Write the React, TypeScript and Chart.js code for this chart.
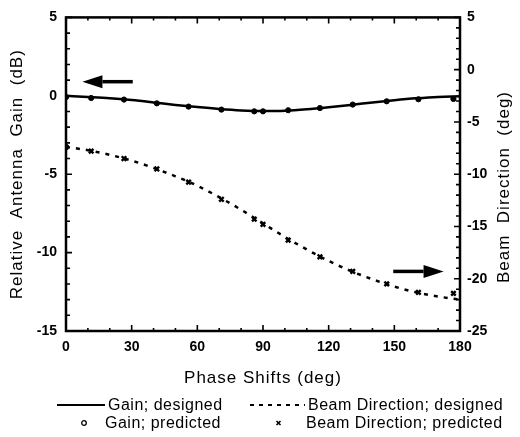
import React, { useEffect, useRef } from 'react';
import { Chart, registerables } from 'chart.js';

Chart.register(...registerables);

// ---- Data ----
const phaseDesigned = [0, 10, 20, 30, 40, 50, 60, 70, 80, 90, 100, 110, 120, 130, 140, 150, 160, 170, 180];
const gainDesigned = [0, -0.07, -0.15, -0.27, -0.42, -0.58, -0.72, -0.84, -0.93, -0.97, -0.95, -0.86, -0.73, -0.58, -0.42, -0.28, -0.16, -0.07, -0.03];
const beamDesigned = [-7.4, -7.7, -8.15, -8.7, -9.4, -10.2, -11.1, -12.2, -13.4, -14.7, -16.0, -17.2, -18.3, -19.25, -20.05, -20.75, -21.3, -21.7, -22.0];

const phasePredicted = [0, 11.5, 26.5, 41.5, 56, 71, 86, 90, 101.5, 116, 131, 146.5, 161, 177];
const gainPredicted = [-0.08, -0.14, -0.24, -0.48, -0.69, -0.88, -0.99, -0.99, -0.92, -0.78, -0.56, -0.35, -0.22, -0.2];
const beamPredicted = [-7.4, -7.8, -8.5, -9.5, -10.75, -12.4, -14.3, -14.8, -16.3, -17.9, -19.3, -20.5, -21.3, -21.4];

const xTickValues = [0, 30, 60, 90, 120, 150, 180];
const gainTickValues = [5, 0, -5, -10, -15];
const beamTickValues = [5, 0, -5, -10, -15, -20, -25];

const xTitle = 'Phase Shifts (deg)';
const yTitle = 'Relative  Antenna  Gain  (dB)';
const y2Title = 'Beam  Direction  (deg)';

// arrows anchored in data coordinates: [fromX, toX, y]
const gainArrow = [30.5, 7.5, 0.9];
const beamArrow = [149.5, 172.5, -19.3];

const FONT = "'Liberation Sans', Arial, Helvetica, sans-serif";

const framePlugin = {
  id: 'frameAndNotes',
  afterDraw(chart: any) {
    const { ctx, chartArea, scales } = chart;
    const { left, right, top, bottom } = chartArea;
    const x = scales.x, y = scales.y, y2 = scales.y2;
    ctx.save();
    ctx.strokeStyle = '#000';
    ctx.fillStyle = '#000';
    ctx.lineWidth = 2.5;
    ctx.strokeRect(left, top, right - left, bottom - top);

    ctx.lineWidth = 1.6;
    ctx.beginPath();
    for (let v = 0; v <= 180; v += 10) {
      const px = x.getPixelForValue(v);
      const len = v % 30 === 0 ? 6 : 3;
      ctx.moveTo(px, bottom); ctx.lineTo(px, bottom - len);
      ctx.moveTo(px, top); ctx.lineTo(px, top + len);
    }
    for (let v = -15; v <= 5; v += 1) {
      const py = y.getPixelForValue(v);
      const len = v % 5 === 0 ? 6 : 4;
      ctx.moveTo(left, py); ctx.lineTo(left + len, py);
    }
    for (let v = -25; v <= 5; v += 1) {
      const py = y2.getPixelForValue(v);
      const len = v % 5 === 0 ? 6 : 4;
      ctx.moveTo(right, py); ctx.lineTo(right - len, py);
    }
    ctx.stroke();

    const drawArrow = (a: number[], scale: any) => {
      const x0 = x.getPixelForValue(a[0]);
      const x1 = x.getPixelForValue(a[1]);
      const py = scale.getPixelForValue(a[2]);
      const dir = Math.sign(x1 - x0);
      const head = 20;
      ctx.lineWidth = 3.5;
      ctx.beginPath();
      ctx.moveTo(x0, py);
      ctx.lineTo(x1 - dir * head, py);
      ctx.stroke();
      ctx.beginPath();
      ctx.moveTo(x1, py);
      ctx.lineTo(x1 - dir * head, py - 6.5);
      ctx.lineTo(x1 - dir * head, py + 6.5);
      ctx.closePath();
      ctx.fill();
    };
    drawArrow(gainArrow, y);
    drawArrow(beamArrow, y2);

    ctx.font = `17px ${FONT}`;
    (ctx as any).letterSpacing = '1px';
    ctx.textAlign = 'center';
    ctx.textBaseline = 'middle';
    ctx.fillText(xTitle, (left + right) / 2, 378);

    ctx.save();
    ctx.translate(17, (top + bottom) / 2);
    ctx.rotate(-Math.PI / 2);
    ctx.fillText(yTitle, 0, 0);
    ctx.restore();

    ctx.save();
    ctx.translate(504, 187);
    ctx.rotate(-Math.PI / 2);
    ctx.fillText(y2Title, 0, 0);
    ctx.restore();

    ctx.restore();
  },
};

function LegendRow({ top, left, marker, text }: { top: number; left: number; marker: React.ReactNode; text: string }) {
  return (
    <div style={{ position: 'absolute', top, left, height: 18, display: 'flex', alignItems: 'center' }}>
      {marker}
      <span style={{ font: `16px ${FONT}`, letterSpacing: '0.5px', color: '#000', whiteSpace: 'nowrap' }}>{text}</span>
    </div>
  );
}

export default function App() {
  const canvasRef = useRef<HTMLCanvasElement | null>(null);

  useEffect(() => {
    document.body.style.margin = '0';
    const canvas = canvasRef.current;
    if (!canvas) return;
    const tickFont = { family: FONT, size: 14, weight: 'bold' as const };
    const chart = new Chart(canvas, {
      type: 'scatter',
      data: {
        datasets: [
          {
            label: 'Gain; designed',
            data: phaseDesigned.map((p, i) => ({ x: p, y: gainDesigned[i] })),
            yAxisID: 'y',
            showLine: true,
            borderColor: '#000',
            borderWidth: 2.5,
            pointRadius: 0,
            cubicInterpolationMode: 'monotone',
          },
          {
            label: 'Beam Direction; designed',
            data: phaseDesigned.map((p, i) => ({ x: p, y: beamDesigned[i] })),
            yAxisID: 'y2',
            showLine: true,
            borderColor: '#000',
            borderWidth: 2.5,
            borderDash: [4, 6],
            pointRadius: 0,
            cubicInterpolationMode: 'monotone',
          },
          {
            label: 'Gain; predicted',
            data: phasePredicted.map((p, i) => ({ x: p, y: gainPredicted[i] })),
            yAxisID: 'y',
            showLine: false,
            pointStyle: 'circle',
            pointRadius: 2.6,
            backgroundColor: '#000',
            borderColor: '#000',
            borderWidth: 1,
          },
          {
            label: 'Beam Direction; predicted',
            data: phasePredicted.map((p, i) => ({ x: p, y: beamPredicted[i] })),
            yAxisID: 'y2',
            showLine: false,
            pointStyle: 'crossRot',
            pointRadius: 3.2,
            borderColor: '#000',
            borderWidth: 2.4,
          },
        ],
      },
      options: {
        responsive: false,
        animation: false,
        layout: { padding: { top: 17, left: 0, right: 0, bottom: 0 } },
        plugins: { legend: { display: false }, tooltip: { enabled: false } },
        scales: {
          x: {
            type: 'linear',
            min: 0,
            max: 180,
            afterBuildTicks: (s: any) => { s.ticks = xTickValues.map((v) => ({ value: v })); },
            afterFit: (s: any) => { s.height = 106; },
            grid: { display: false, drawTicks: false },
            border: { display: false },
            ticks: { color: '#000', font: tickFont, padding: 8, maxRotation: 0 },
          },
          y: {
            type: 'linear',
            position: 'left',
            min: -15,
            max: 5,
            afterBuildTicks: (s: any) => { s.ticks = gainTickValues.map((v) => ({ value: v })); },
            afterFit: (s: any) => { s.width = 66; },
            grid: { display: false, drawTicks: false },
            border: { display: false },
            ticks: { color: '#000', font: tickFont, padding: 9 },
          },
          y2: {
            type: 'linear',
            position: 'right',
            min: -25,
            max: 5,
            afterBuildTicks: (s: any) => { s.ticks = beamTickValues.map((v) => ({ value: v })); },
            afterFit: (s: any) => { s.width = 60; },
            grid: { display: false, drawTicks: false },
            border: { display: false },
            ticks: { color: '#000', font: tickFont, padding: 7 },
          },
        },
      },
      plugins: [framePlugin],
    });
    return () => chart.destroy();
  }, []);

  const solid = <div style={{ width: 48, borderTop: '2px solid #000', marginRight: 3 }} />;
  const dashed = (
    <svg width={56} height={4} style={{ marginRight: 3 }}>
      <line x1={1} y1={2} x2={56} y2={2} stroke="#000" strokeWidth={2} strokeDasharray="4 5" />
    </svg>
  );
  const circle = (
    <svg width={26} height={10} style={{ marginRight: 0 }}>
      <circle cx={5} cy={5} r={2.3} stroke="#000" strokeWidth={1.3} fill="#fff" />
    </svg>
  );
  const cross = (
    <svg width={31} height={10}>
      <path d="M1.5 3 L5.5 7 M5.5 3 L1.5 7" stroke="#000" strokeWidth={1.6} />
    </svg>
  );

  return (
    <div style={{ position: 'relative', width: 520, height: 437 }}>
      <canvas ref={canvasRef} width={520} height={437} style={{ display: 'block' }} />
      <LegendRow top={396} left={57} marker={solid} text="Gain; designed" />
      <LegendRow top={396} left={249} marker={dashed} text="Beam Direction; designed" />
      <LegendRow top={414} left={79} marker={circle} text="Gain; predicted" />
      <LegendRow top={414} left={275} marker={cross} text="Beam Direction; predicted" />
    </div>
  );
}
